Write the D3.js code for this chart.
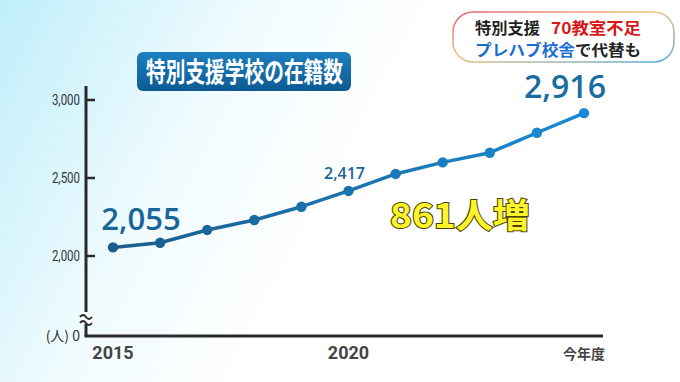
<!DOCTYPE html>
<html>
<head>
<meta charset="utf-8">
<script src="https://cdn.jsdelivr.net/npm/d3@7"></script>
<style>
  html, body { margin: 0; padding: 0; }
  body { width: 680px; height: 382px; overflow: hidden; }
  svg { display: block; font-family: "Noto Sans CJK JP", "Noto Sans", sans-serif; }
</style>
</head>
<body>
<script>
const years = [2015, 2016, 2017, 2018, 2019, 2020, 2021, 2022, 2023, 2024, 2025]
const students = [2055, 2085, 2167, 2231, 2316, 2417, 2526, 2600, 2662, 2790, 2916]
const yTicks = [2000, 2500, 3000]
const xLabels = [{ year: 2015, text: '2015' }, { year: 2020, text: '2020' }, { year: 2025, text: '今年度' }]
const callouts = [
  { year: 2015, value: 2055, text: '2,055', size: 31, dx: 28, dy: -17 },
  { year: 2020, value: 2417, text: '2,417', size: 16, dx: -4, dy: -12 },
  { year: 2025, value: 2916, text: '2,916', size: 32, dx: -19, dy: -15 }
]

const width = 680
const height = 382

const svg = d3.select('body').append('svg')
  .attr('width', width)
  .attr('height', height)

const defs = svg.append('defs')

const bg = defs.append('linearGradient').attr('id', 'bg')
  .attr('x1', 0).attr('y1', 0).attr('x2', 1).attr('y2', 0.3)
bg.append('stop').attr('offset', '0%').attr('stop-color', '#bfeefa')
bg.append('stop').attr('offset', '35%').attr('stop-color', '#f0fbfe')
bg.append('stop').attr('offset', '60%').attr('stop-color', '#ffffff')

const lineGrad = defs.append('linearGradient').attr('id', 'lineGrad')
  .attr('gradientUnits', 'userSpaceOnUse')
  .attr('x1', 110).attr('y1', 0).attr('x2', 590).attr('y2', 0)
lineGrad.append('stop').attr('offset', '0%').attr('stop-color', '#1a5e8c')
lineGrad.append('stop').attr('offset', '100%').attr('stop-color', '#1a8ad6')

const titleGrad = defs.append('linearGradient').attr('id', 'titleGrad')
  .attr('x1', 0).attr('y1', 0).attr('x2', 0).attr('y2', 1)
titleGrad.append('stop').attr('offset', '0%').attr('stop-color', '#1c7fc0')
titleGrad.append('stop').attr('offset', '100%').attr('stop-color', '#0d5a93')

const boxGrad = defs.append('linearGradient').attr('id', 'boxGrad')
  .attr('x1', 0).attr('y1', 0).attr('x2', 1).attr('y2', 1)
boxGrad.append('stop').attr('offset', '0%').attr('stop-color', '#e0607a')
boxGrad.append('stop').attr('offset', '45%').attr('stop-color', '#f2c27a')
boxGrad.append('stop').attr('offset', '100%').attr('stop-color', '#5aa8e0')

svg.append('rect').attr('width', width).attr('height', height).attr('fill', 'url(#bg)')

// scales
const x = d3.scaleLinear().domain([2015, 2025]).range([113, 584])
const y = d3.scaleLinear().domain([2000, 3000]).range([256, 100])
const baseY = 336
const axisX = 86

// axes
svg.append('line')
  .attr('x1', axisX).attr('x2', axisX).attr('y1', 86).attr('y2', baseY)
  .attr('stroke', '#2a2a2a').attr('stroke-width', 3)
svg.append('line')
  .attr('x1', axisX - 1.5).attr('x2', 603).attr('y1', baseY).attr('y2', baseY)
  .attr('stroke', '#2a2a2a').attr('stroke-width', 3)

svg.append('g').selectAll('line')
  .data(yTicks)
  .join('line')
  .attr('x1', axisX).attr('x2', axisX + 9)
  .attr('y1', d => y(d)).attr('y2', d => y(d))
  .attr('stroke', '#2a2a2a').attr('stroke-width', 2.5)

svg.append('g').selectAll('text')
  .data(yTicks)
  .join('text')
  .attr('x', axisX - 6).attr('y', d => y(d) + 5)
  .attr('text-anchor', 'end')
  .attr('font-size', 14)
  .attr('fill', '#333')
  .attr('font-family', 'Roboto, sans-serif')
  .attr('transform', d => `translate(${axisX - 6},0) scale(0.82,1) translate(${-(axisX - 6)},0)`)
  .text(d3.format(','))

// axis break
const brk = svg.append('g')
brk.append('rect').attr('x', axisX - 5).attr('y', 312).attr('width', 10).attr('height', 12).attr('fill', '#fff')
;[315, 321].forEach(yy => {
  brk.append('path')
    .attr('d', `M${axisX - 6},${yy + 2} q3,-4 6,0 t6,0`)
    .attr('fill', 'none').attr('stroke', '#2a2a2a').attr('stroke-width', 2)
})

svg.append('text')
  .attr('x', axisX - 6).attr('y', baseY + 5)
  .attr('text-anchor', 'end')
  .attr('font-size', 14)
  .attr('fill', '#333')
  .text('(人) 0')

svg.append('g').selectAll('text')
  .data(xLabels)
  .join('text')
  .attr('x', d => x(d.year))
  .attr('y', 359)
  .attr('text-anchor', 'middle')
  .attr('font-weight', 'bold')
  .attr('font-size', d => d.year === 2025 ? 14 : 18)
  .attr('fill', '#444')
  .attr('font-family', d => d.year === 2025 ? null : 'Roboto, sans-serif')
  .text(d => d.text)

// line
const line = d3.line().x((d, i) => x(years[i])).y(d => y(d))
svg.append('path')
  .datum(students)
  .attr('d', line)
  .attr('fill', 'none')
  .attr('stroke', 'url(#lineGrad)')
  .attr('stroke-width', 3.5)
  .attr('stroke-linejoin', 'round')

svg.append('g').selectAll('circle')
  .data(students)
  .join('circle')
  .attr('cx', (d, i) => x(years[i]))
  .attr('cy', d => y(d))
  .attr('r', 5.2)
  .attr('fill', (d, i) => d3.interpolateRgb('#1a5e8c', '#1a8ad6')(i / (years.length - 1)))

// value callouts
svg.append('g').selectAll('text')
  .data(callouts)
  .join('text')
  .attr('x', d => x(d.year) + d.dx)
  .attr('y', d => y(d.value) + d.dy)
  .attr('text-anchor', 'middle')
  .attr('font-family', '"Open Sans", Roboto, sans-serif')
  .attr('font-weight', 600)
  .attr('font-size', d => d.size)
  .attr('fill', d => d.year === 2025 ? '#1a6d9e' : '#1a6597')
  .text(d => d.text)

// increase annotation
svg.append('text')
  .attr('x', 390).attr('y', 228)
  .attr('font-weight', 'bold')
  .attr('font-size', 34)
  .attr('textLength', 140)
  .attr('lengthAdjust', 'spacingAndGlyphs')
  .attr('fill', '#fff42a')
  .attr('stroke', '#4a4200')
  .attr('stroke-width', 2)
  .attr('paint-order', 'stroke')
  .text(`${students[students.length - 1] - students[0]}人増`)

// title
svg.append('rect')
  .attr('x', 137).attr('y', 52).attr('width', 214).attr('height', 39)
  .attr('rx', 6)
  .attr('fill', 'url(#titleGrad)')
svg.append('text')
  .attr('x', 146).attr('y', 82)
  .attr('font-weight', 'bold')
  .attr('font-size', 27)
  .attr('textLength', 197)
  .attr('lengthAdjust', 'spacingAndGlyphs')
  .attr('fill', '#fff')
  .text('特別支援学校の在籍数')

// news caption
svg.append('rect')
  .attr('x', 453).attr('y', 12).attr('width', 221).attr('height', 50)
  .attr('rx', 20)
  .attr('fill', '#fff')
  .attr('stroke', 'url(#boxGrad)')
  .attr('stroke-width', 1.5)
const caption = [
  { text: '特別支援', x: 475, y: 33.5, len: 65, color: '#222' },
  { text: '70教室不足', x: 551, y: 33.5, len: 90, color: '#d81818' },
  { text: 'プレハブ校舎', x: 475, y: 56, len: 100, color: '#1a6ed0' },
  { text: 'で代替も', x: 575, y: 56, len: 66, color: '#222' }
]
svg.append('g').selectAll('text')
  .data(caption)
  .join('text')
  .attr('x', d => d.x).attr('y', d => d.y)
  .attr('font-weight', 'bold')
  .attr('font-size', 15.5)
  .attr('textLength', d => d.len)
  .attr('lengthAdjust', 'spacingAndGlyphs')
  .attr('fill', d => d.color)
  .text(d => d.text)
</script>
</body>
</html>
